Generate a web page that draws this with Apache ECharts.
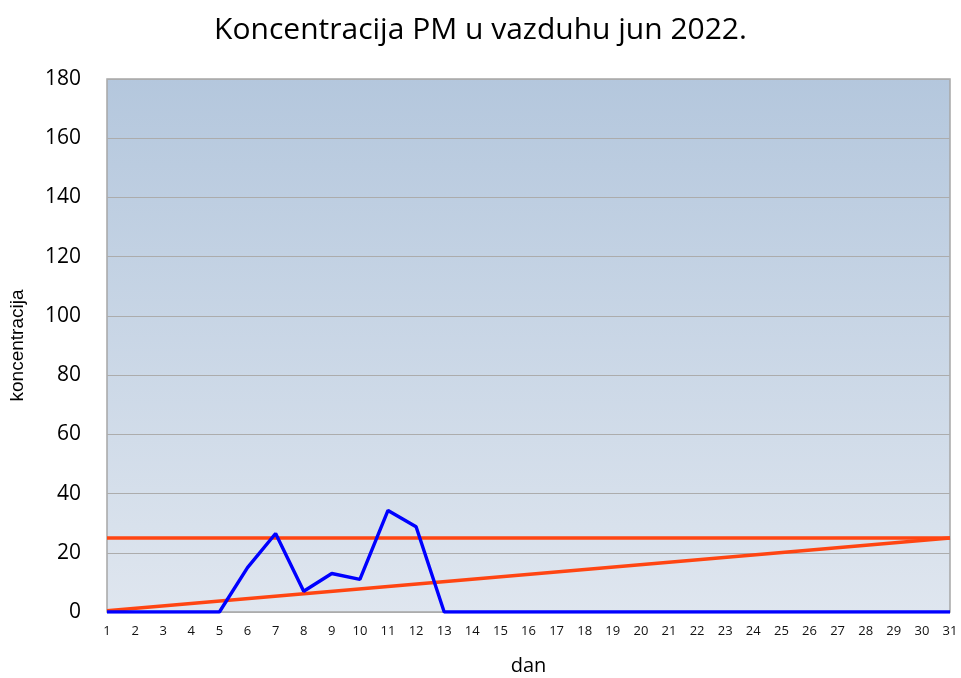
<!DOCTYPE html>
<html>
<head>
<meta charset="utf-8">
<script src="https://cdn.jsdelivr.net/npm/echarts@6/dist/echarts.min.js"></script>
<style>
  html, body { margin: 0; padding: 0; background: #fff; }
  #chart { width: 961px; height: 678px; }
</style>
</head>
<body>
<div id="chart"></div>
<script>
const days = ['1', '2', '3', '4', '5', '6', '7', '8', '9', '10', '11', '12', '13', '14', '15', '16',
  '17', '18', '19', '20', '21', '22', '23', '24', '25', '26', '27', '28', '29', '30', '31']
const pmValues = [0, 0, 0, 0, 0, 15, 26.5, 7, 13, 11, 34.3, 28.8, 0, 0, 0, 0,
  0, 0, 0, 0, 0, 0, 0, 0, 0, 0, 0, 0, 0, 0, 0]
const limitValues = [25, 25, 25, 25, 25, 25, 25, 25, 25, 25, 25, 25, 25, 25, 25, 25,
  25, 25, 25, 25, 25, 25, 25, 25, 25, 25, 25, 25, 25, 25, 25]
// trend line: only its two end points
const trendPoints = [[0, 0.4], [30, 25]]
const yTicks = { min: 0, max: 180, interval: 20 }

const chart = echarts.init(document.getElementById('chart'))
const option = {
  animation: false,
  textStyle: { fontFamily: 'Open Sans' },
  title: {
    text: 'Koncentracija PM u vazduhu jun 2022.',
    left: 'center',
    top: 10,
    textStyle: { fontSize: 30, fontWeight: 'normal', color: '#000', fontFamily: 'Open Sans' }
  },
  grid: {
    left: 107,
    right: 11,
    top: 79,
    bottom: 66,
    outerBoundsMode: 'none',
    show: true,
    borderColor: '#a6a6a6',
    borderWidth: 1.5,
    backgroundColor: new echarts.graphic.LinearGradient(0, 0, 0, 1, [
      { offset: 0, color: '#b4c7dd' },
      { offset: 1, color: '#dfe6ef' }
    ])
  },
  xAxis: {
    type: 'category',
    data: days,
    boundaryGap: false,
    name: 'dan',
    nameLocation: 'middle',
    nameGap: 44,
    nameTextStyle: { fontSize: 20, color: '#000' },
    axisLine: { show: false },
    axisTick: { show: false },
    axisLabel: { fontSize: 13, color: '#111', margin: 13, interval: 0 },
    splitLine: { show: false }
  },
  yAxis: {
    type: 'value',
    min: yTicks.min,
    max: yTicks.max,
    interval: yTicks.interval,
    name: 'koncentracija',
    nameLocation: 'middle',
    nameGap: 80,
    nameTextStyle: { fontSize: 19, color: '#000', fontFamily: 'Liberation Sans' },
    axisLine: { show: false },
    axisTick: { show: false },
    axisLabel: { fontSize: 21, color: '#000', margin: 26 },
    splitLine: { lineStyle: { color: '#acacac', width: 1.2 } }
  },
  series: [
    {
      name: 'PM',
      type: 'line',
      data: pmValues,
      symbol: 'none',
      lineStyle: { color: '#0000ff', width: 3.4 },
      z: 3
    },
    {
      name: 'granica',
      type: 'line',
      data: limitValues,
      symbol: 'none',
      lineStyle: { color: '#ff4512', width: 3.6 },
      z: 2
    },
    {
      name: 'trend',
      type: 'line',
      data: trendPoints,
      symbol: 'none',
      lineStyle: { color: '#ff4512', width: 3.6 },
      z: 2
    }
  ]
}
option && chart.setOption(option)
</script>
</body>
</html>
